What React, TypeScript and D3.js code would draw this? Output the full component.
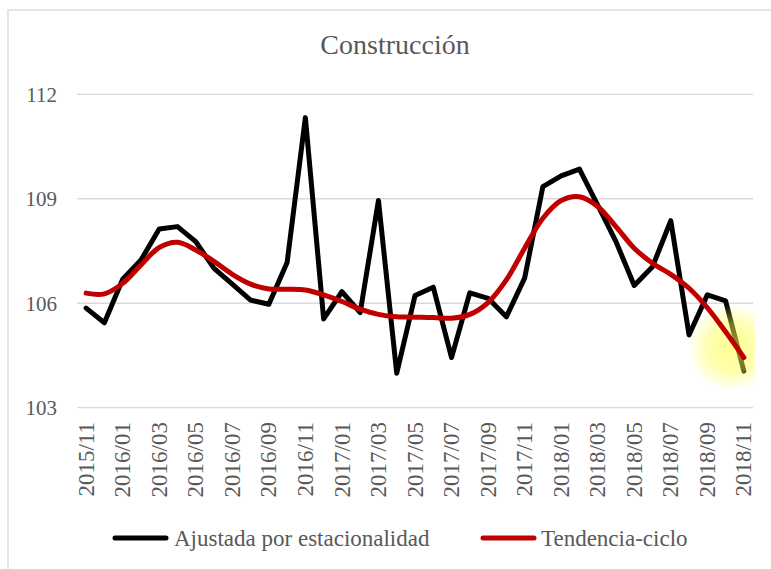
import * as d3 from 'd3';
import React from 'react';

// months on the category axis
const months = [
  '2015/11', '2015/12', '2016/01', '2016/02', '2016/03', '2016/04', '2016/05', '2016/06',
  '2016/07', '2016/08', '2016/09', '2016/10', '2016/11', '2016/12', '2017/01', '2017/02',
  '2017/03', '2017/04', '2017/05', '2017/06', '2017/07', '2017/08', '2017/09', '2017/10',
  '2017/11', '2017/12', '2018/01', '2018/02', '2018/03', '2018/04', '2018/05', '2018/06',
  '2018/07', '2018/08', '2018/09', '2018/10', '2018/11'
];

// labels shown under the axis (every second month)
const tickLabels = [
  '2015/11', '2016/01', '2016/03', '2016/05', '2016/07', '2016/09', '2016/11', '2017/01',
  '2017/03', '2017/05', '2017/07', '2017/09', '2017/11', '2018/01', '2018/03', '2018/05',
  '2018/07', '2018/09', '2018/11'
];

// seasonally adjusted series
const ajustada = [
  105.86, 105.44, 106.69, 107.24, 108.13, 108.2, 107.77, 107.0, 106.55, 106.09,
  105.97, 107.17, 111.33, 105.55, 106.33, 105.73, 108.95, 103.99, 106.22, 106.46,
  104.44, 106.3, 106.14, 105.61, 106.72, 109.35, 109.66, 109.85, 108.82, 107.77,
  106.51, 107.05, 108.37, 105.09, 106.24, 106.07, 104.05
];

// trend-cycle series
const tendencia = [
  106.29, 106.27, 106.57, 107.1, 107.6, 107.75, 107.53, 107.2, 106.83, 106.55,
  106.41, 106.4, 106.38, 106.24, 106.05, 105.83, 105.68, 105.61, 105.6, 105.59,
  105.57, 105.68, 106.02, 106.67, 107.58, 108.44, 108.95, 109.06, 108.78, 108.2,
  107.58, 107.15, 106.83, 106.43, 105.87, 105.18, 104.44
];

const yTicks = [103, 106, 109, 112];

const App = () => {
  const width = 771;
  const height = 569;
  const font = '"Liberation Serif", "Times New Roman", serif';
  const textColor = '#595959';

  const x = d3.scaleBand<string>().domain(months).range([77, 753]).padding(0);
  const y = d3.scaleLinear().domain([103, 112]).range([407.7, 94.3]);
  const cx = (m: string) => (x(m) as number) + x.bandwidth() / 2;

  const blackLine = d3.line<number>()
    .x((d, i) => cx(months[i]))
    .y((d) => y(d));

  const redLine = d3.line<number>()
    .x((d, i) => cx(months[i]))
    .y((d) => y(d))
    .curve(d3.curveCatmullRom.alpha(0.5));

  const glowX = cx(months[months.length - 1]) - 12;
  const glowY = y(tendencia[tendencia.length - 1]) - 10;

  return (
    <svg width={width} height={height} style={{ position: 'absolute', left: 0, top: 0 }}>
      <defs>
        <radialGradient id="glow">
          <stop offset="0%" stopColor="#ffff4d" stopOpacity={0.6} />
          <stop offset="55%" stopColor="#ffff4d" stopOpacity={0.45} />
          <stop offset="100%" stopColor="#ffff4d" stopOpacity={0} />
        </radialGradient>
        <clipPath id="plotClip">
          <rect x={0} y={0} width={755} height={height} />
        </clipPath>
      </defs>
      <rect x={0} y={0} width={width} height={height} fill="#ffffff" />
      <rect x={8} y={10} width={width + 20} height={height + 20} fill="none" stroke="#d9d9d9" strokeWidth={1.3} />

      <text x={395} y={54} textAnchor="middle" fontFamily={font} fontSize={28} fill={textColor}>
        Construcción
      </text>

      {yTicks.map((t) => (
        <g key={t}>
          <line x1={77} x2={753} y1={y(t)} y2={y(t)} stroke="#d9d9d9" strokeWidth={1.3} />
          <text x={57} y={y(t)} dy="0.35em" textAnchor="end" fontFamily={font} fontSize={21} fill={textColor}>
            {t}
          </text>
        </g>
      ))}

      {tickLabels.map((m) => (
        <text
          key={m}
          transform={`translate(${cx(m)},422) rotate(-90)`}
          dy="0.33em"
          textAnchor="end"
          fontFamily={font}
          fontSize={23}
          fill={textColor}
        >
          {m}
        </text>
      ))}

      <path d={blackLine(ajustada) as string} fill="none" stroke="#000000" strokeWidth={5} strokeLinejoin="round" strokeLinecap="round" />
      <circle cx={glowX} cy={glowY} r={44} fill="url(#glow)" clipPath="url(#plotClip)" />
      <path d={redLine(tendencia) as string} fill="none" stroke="#c00000" strokeWidth={5} strokeLinejoin="round" strokeLinecap="round" />

      <g>
        <line x1={115} x2={166} y1={538} y2={538} stroke="#000000" strokeWidth={5} strokeLinecap="round" />
        <text x={174} y={538} dy="0.35em" fontFamily={font} fontSize={23} fill={textColor}>
          Ajustada por estacionalidad
        </text>
        <line x1={483} x2={534} y1={538} y2={538} stroke="#c00000" strokeWidth={5} strokeLinecap="round" />
        <text x={541} y={538} dy="0.35em" fontFamily={font} fontSize={23} fill={textColor}>
          Tendencia-ciclo
        </text>
      </g>
    </svg>
  );
};

export default App;
